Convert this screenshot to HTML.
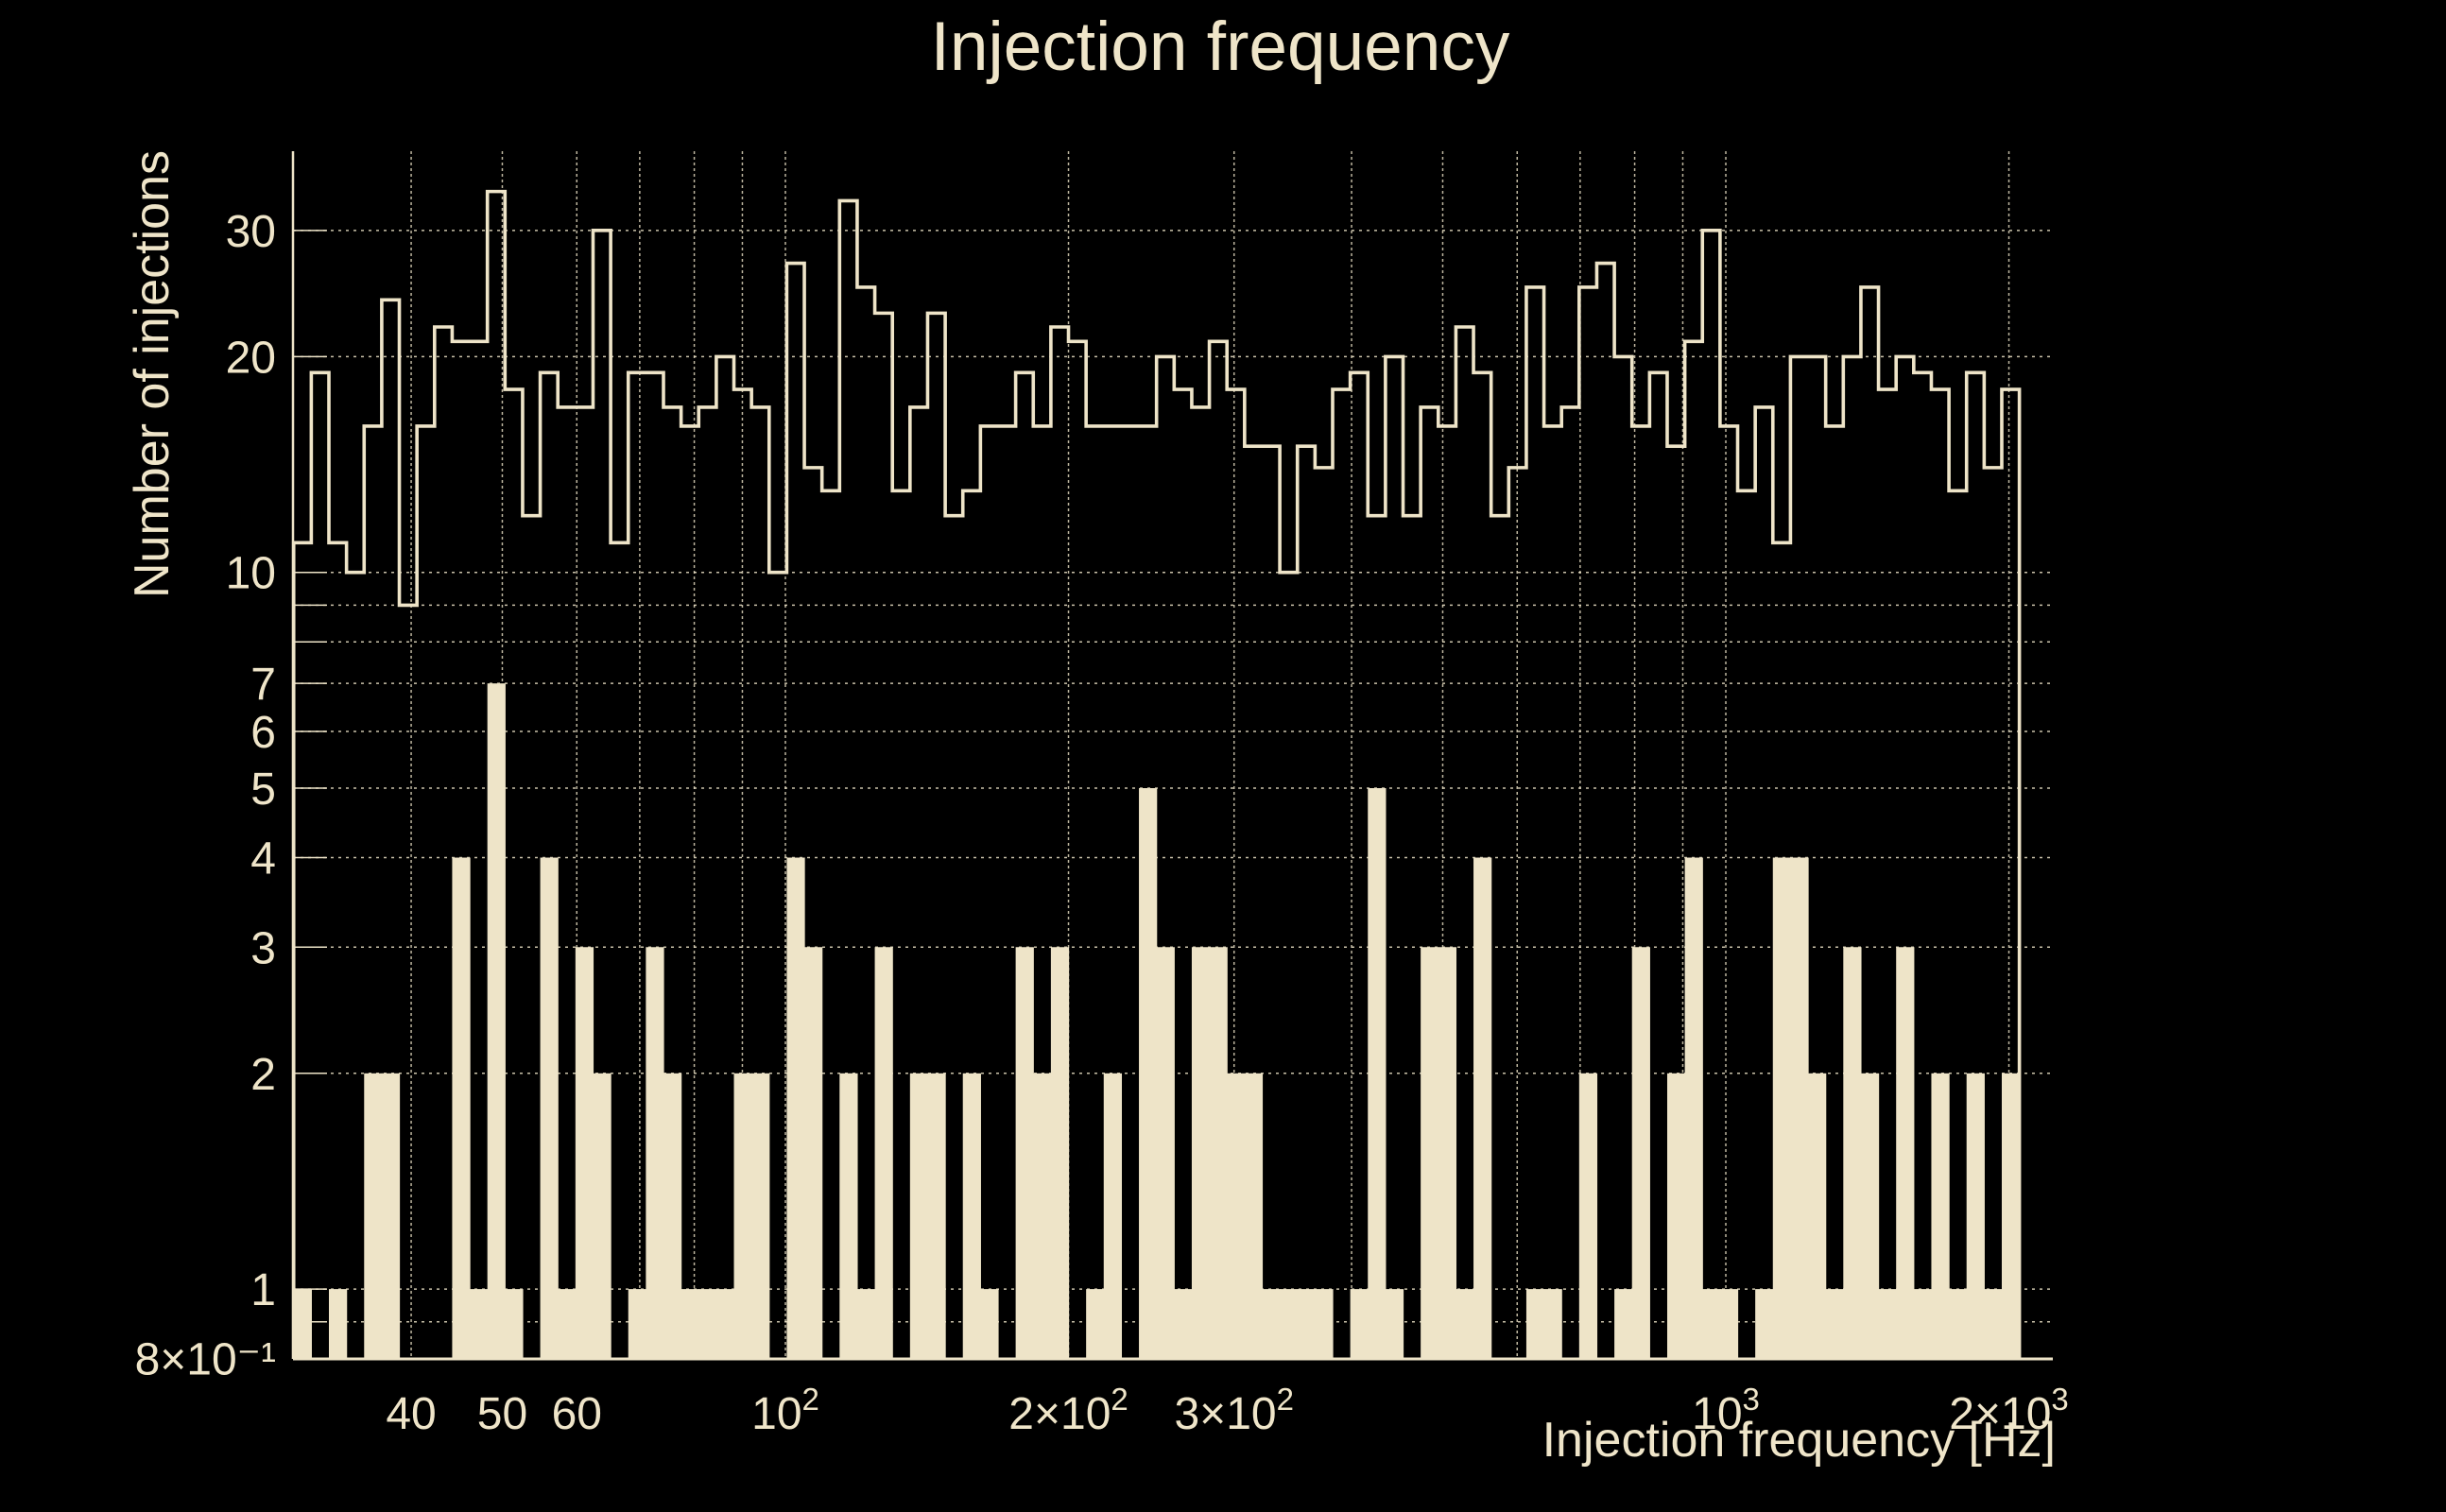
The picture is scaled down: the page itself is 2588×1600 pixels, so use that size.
<!DOCTYPE html>
<html><head><meta charset="utf-8"><style>
html,body{margin:0;padding:0;background:#000;}
svg{display:block;}
text{font-family:"Liberation Sans",sans-serif;fill:#EFE5C9;}
</style></head>
<body>
<svg id="chart" width="2588" height="1600" viewBox="0 0 2588 1600" xmlns="http://www.w3.org/2000/svg">
<rect x="0" y="0" width="2588" height="1600" fill="#000"/>
<text x="1291" y="74" font-size="73" text-anchor="middle">Injection frequency</text>
<text transform="translate(178,396) rotate(-90)" font-size="52" text-anchor="middle">Number of injections</text>
<text x="2175" y="1541" font-size="52" text-anchor="end">Injection frequency [Hz]</text>
<g id="grid"></g>
<g id="bars"></g>
<g id="line"></g>
<g id="axes"></g>
</svg>
<script>
const binLow = 30;
const binHigh = 2052;
const outlineCounts = [11,19,11,10,16,24,9,16,22,21,21,34,18,12,19,17,17,30,11,19,19,17,16,17,20,18,17,10,27,14,13,33,25,23,13,17,23,12,13,16,16,19,16,22,21,16,16,16,16,20,18,17,21,18,15,15,10,15,14,18,19,12,20,12,17,16,22,19,12,14,25,16,17,25,27,20,16,19,15,21,30,16,13,17,11,20,20,16,20,25,18,20,19,18,13,19,14,18];
const filledCounts = [1,0,1,0,2,2,0,0,0,4,1,7,1,0,4,1,3,2,0,1,3,2,1,1,1,2,2,0,4,3,0,2,1,3,0,2,2,0,2,1,0,3,2,3,0,1,2,0,5,3,1,3,3,2,2,1,1,1,1,0,1,5,1,0,3,3,1,4,0,0,1,1,0,2,0,1,3,0,2,4,1,1,0,1,4,4,2,1,3,2,1,3,1,2,1,2,1,2];
const yTickValues = [0.8,1,2,3,4,5,6,7,10,20,30];
const yTickLabels = ["8×10⁻¹","1","2","3","4","5","6","7","10","20","30"];
const yGridValues = [0.9,1,2,3,4,5,6,7,8,9,10,20,30];
const xGridValues = [40,50,60,70,80,90,100,200,300,400,500,600,700,800,900,1000,2000];
const xTickValues = [40,50,60,100,200,300,1000,2000];
const xTickMain = ["40","50","60","10","2×10","3×10","10","2×10"];
const xTickSup = ["","","","2","2","2","3","3"];

const C = "#EEE4C8";
const L = 310, R = 2172, T = 160, B = 1438;
const yMin = 0.8;
function X(f){ return 831 + 995*Math.log10(f/100); }
function Y(v){ return 605.7 - 758.4*(Math.log10(Math.max(v,yMin)) - 1); }
const NS = "http://www.w3.org/2000/svg";
function mk(tag, parent, attrs){ const e = document.createElementNS(NS, tag); for (const k in attrs) e.setAttribute(k, attrs[k]); parent.appendChild(e); return e; }

const grid = document.getElementById('grid');
yGridValues.forEach(v=>{
  const l = mk('line', grid, {x1:L, x2:R, y1:Y(v), y2:Y(v), stroke:C, 'stroke-width':1.5, 'stroke-dasharray':'3 5', opacity:0.85});
  
  
  const t = mk('line', grid, {x1:L, x2:L+36, y1:Y(v), y2:Y(v), stroke:C, 'stroke-width':1.5});
  
  
});
xGridValues.forEach(f=>{
  const l = mk('line', grid, {x1:X(f), x2:X(f), y1:T, y2:B, stroke:C, 'stroke-width':1.5, 'stroke-dasharray':'3 3', opacity:0.8});
  
  
});

const n = outlineCounts.length;
function edge(i){ return X(binLow*Math.pow(binHigh/binLow, i/n)); }

const bars = document.getElementById('bars');
filledCounts.forEach((v,i)=>{
  if (v <= 0) return;
  const x0 = edge(i), x1 = edge(i+1);
  const r = mk('rect', bars, {x:x0, y:Y(v), width:x1-x0+0.6, height:B-Y(v), fill:C});
  
  
});

let d = 'M' + edge(0) + ' ' + B;
outlineCounts.forEach((v,i)=>{ d += ' L' + edge(i) + ' ' + Y(v) + ' L' + edge(i+1) + ' ' + Y(v); });
d += ' L' + edge(n) + ' ' + B;
const p = mk('path', document.getElementById('line'), {d:d, fill:'none', stroke:C, 'stroke-width':3.6});



const axes = document.getElementById('axes');
const ya = mk('line', axes, {x1:L, x2:L, y1:T, y2:B, stroke:C, 'stroke-width':2.5});


const xa = mk('line', axes, {x1:L, x2:R, y1:B, y2:B, stroke:C, 'stroke-width':3});



yTickValues.forEach((v,i)=>{
  const t = mk('text', axes, {x:292, y:Y(v)+17, 'font-size':48, 'text-anchor':'end'});
  t.textContent = yTickLabels[i];
  
  
});
xTickValues.forEach((f,i)=>{
  const t = mk('text', axes, {x:X(f), y:1512, 'font-size':48, 'text-anchor':'middle'});
  
  
  const m = mk('tspan', t, {}); m.textContent = xTickMain[i];
  if (xTickSup[i]) { const s = mk('tspan', t, {dy:-20, 'font-size':33}); s.textContent = xTickSup[i]; }
});
</script>
</body></html>
